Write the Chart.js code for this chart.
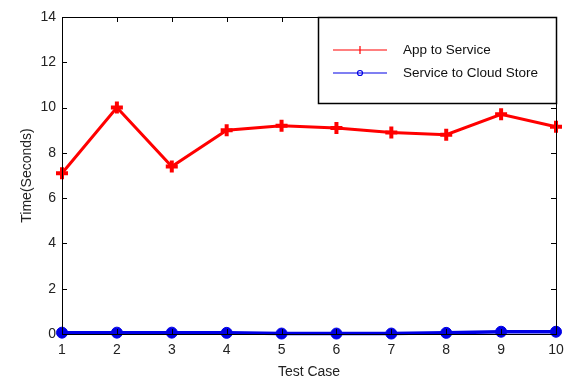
<!DOCTYPE html>
<html>
<head>
<meta charset="utf-8">
<script src="https://cdn.jsdelivr.net/npm/chart.js@4.4.1/dist/chart.umd.min.js"></script>
<style>
  html, body { margin: 0; padding: 0; background: #fff; }
  #wrap { width: 569px; height: 381px; }
</style>
</head>
<body>
<div id="wrap"><canvas id="c" width="569" height="381"></canvas></div>
<script>
// Test cases on the x axis
const testCases = [1, 2, 3, 4, 5, 6, 7, 8, 9, 10];
// Round-trip times in seconds
const appToService = [7.1, 10.0, 7.4, 9.0, 9.2, 9.1, 8.9, 8.8, 9.7, 9.15];
const serviceToCloudStore = [0.06, 0.06, 0.06, 0.05, 0.02, 0.02, 0.02, 0.05, 0.1, 0.1];
// Axis ticks
const yTicks = [0, 2, 4, 6, 8, 10, 12, 14];
const seriesNames = ['App to Service', 'Service to Cloud Store'];

const FONT = 'Liberation Sans, Arial, sans-serif';
const RED = '#ff0000';
const BLUE = '#0000e6';

// Box frame with inward ticks on all four sides, like a classic plot
const framePlugin = {
  id: 'frame',
  afterDatasetsDraw(chart) {
    const { ctx, chartArea: a, scales } = chart;
    ctx.save();
    ctx.strokeStyle = '#000';
    ctx.lineWidth = 1;
    ctx.strokeRect(a.left + 0.5, a.top + 0.5, a.right - a.left, a.bottom - a.top);
    const len = 5;
    ctx.beginPath();
    testCases.forEach(v => {
      const x = Math.round(scales.x.getPixelForValue(v)) + 0.5;
      ctx.moveTo(x, a.bottom); ctx.lineTo(x, a.bottom - len);
      ctx.moveTo(x, a.top); ctx.lineTo(x, a.top + len);
    });
    yTicks.forEach(v => {
      const y = Math.round(scales.y.getPixelForValue(v)) + 0.5;
      ctx.moveTo(a.left, y); ctx.lineTo(a.left + len, y);
      ctx.moveTo(a.right, y); ctx.lineTo(a.right - len, y);
    });
    ctx.stroke();
    ctx.restore();
  }
};

// Legend box in the upper right corner of the plot
const legendBoxPlugin = {
  id: 'legendBox',
  afterDraw(chart) {
    const { ctx, chartArea: a } = chart;
    const w = 238, h = 86;
    const x0 = a.right - w, y0 = a.top;
    ctx.save();
    ctx.fillStyle = '#fff';
    ctx.fillRect(x0, y0, w, h);
    ctx.strokeStyle = '#000';
    ctx.lineWidth = 1.5;
    ctx.strokeRect(x0 + 0.5, y0 + 0.5, w, h);
    const rows = [
      { y: y0 + 33, color: RED, name: seriesNames[0], marker: 'plus' },
      { y: y0 + 56, color: BLUE, name: seriesNames[1], marker: 'circle' }
    ];
    rows.forEach(r => {
      ctx.strokeStyle = r.color;
      ctx.lineWidth = 1.2;
      ctx.beginPath();
      ctx.moveTo(x0 + 15, r.y); ctx.lineTo(x0 + 69, r.y);
      ctx.stroke();
      const mx = x0 + 42;
      ctx.beginPath();
      if (r.marker === 'plus') {
        ctx.moveTo(mx, r.y - 4); ctx.lineTo(mx, r.y + 4);
      } else {
        ctx.arc(mx, r.y, 2.5, 0, Math.PI * 2);
      }
      ctx.stroke();
      ctx.fillStyle = '#111';
      ctx.font = '13.5px ' + FONT;
      ctx.textBaseline = 'middle';
      ctx.textAlign = 'left';
      ctx.fillText(r.name, x0 + 85, r.y);
    });
    ctx.restore();
  }
};

new Chart(document.getElementById('c'), {
  type: 'line',
  data: {
    datasets: [
      {
        label: seriesNames[0],
        data: testCases.map((t, i) => ({ x: t, y: appToService[i] })),
        borderColor: RED,
        backgroundColor: RED,
        borderWidth: 3,
        pointStyle: 'cross',
        pointRadius: 6,
        pointBorderWidth: 4,
        pointBorderColor: RED,
        tension: 0,
        clip: false
      },
      {
        label: seriesNames[1],
        data: testCases.map((t, i) => ({ x: t, y: serviceToCloudStore[i] })),
        borderColor: BLUE,
        backgroundColor: BLUE,
        borderWidth: 3.5,
        pointStyle: 'circle',
        pointRadius: 5.5,
        pointBorderWidth: 1,
        tension: 0,
        clip: false
      }
    ]
  },
  options: {
    responsive: false,
    animation: false,
    devicePixelRatio: 1,
    layout: { padding: { left: 0, right: 13, top: 17, bottom: 0 } },
    plugins: { legend: { display: false }, tooltip: { enabled: false } },
    scales: {
      x: {
        type: 'linear',
        min: 1, max: 10,
        grid: { display: false },
        border: { display: false },
        afterBuildTicks: s => { s.ticks = testCases.map(v => ({ value: v })); },
        afterFit: s => { s.height = 47; },
        ticks: { color: '#222', font: { size: 14, family: FONT }, padding: 0, maxRotation: 0 },
        title: { display: true, text: 'Test Case', color: '#222', font: { size: 14, family: FONT }, padding: { top: 2, bottom: 0 } }
      },
      y: {
        min: 0, max: 14,
        grid: { display: false },
        border: { display: false },
        afterBuildTicks: s => { s.ticks = yTicks.map(v => ({ value: v })); },
        afterFit: s => { s.width = 62; },
        ticks: { color: '#222', font: { size: 14, family: FONT }, padding: -2 },
        title: { display: true, text: 'Time(Seconds)', color: '#222', font: { size: 14, family: FONT }, padding: { top: 19, bottom: 4 } }
      }
    }
  },
  plugins: [framePlugin, legendBoxPlugin]
});
</script>
</body>
</html>
